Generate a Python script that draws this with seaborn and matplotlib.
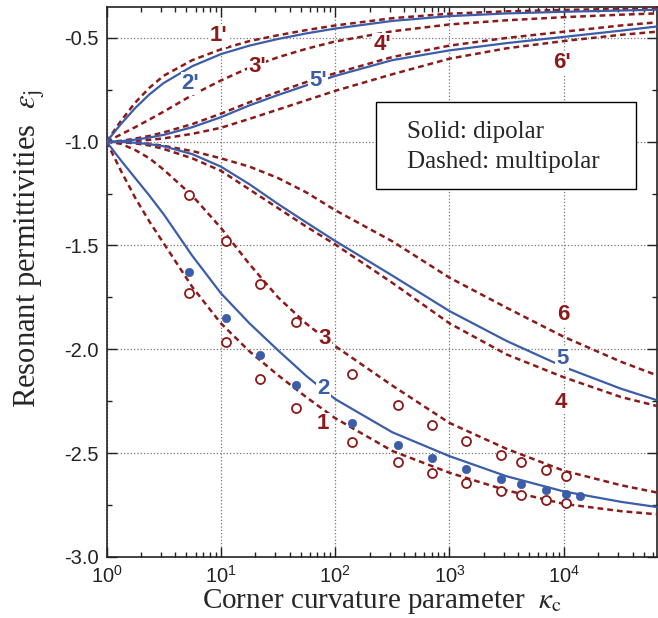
import numpy as np
import pandas as pd
import matplotlib
matplotlib.use("Agg")
import matplotlib.pyplot as plt
from matplotlib.patches import Rectangle
from matplotlib.ticker import LogLocator, MultipleLocator, FormatStrFormatter, NullFormatter
import seaborn as sns

# ── data ───────────────────────────────────────────────────
KAPPA = [1, 1.334, 1.778, 2.371, 3.162, 5.623, 10, 17.78, 31.62, 56.23,
         100, 316.2, 1000, 3162, 10000, 31620, 65000]

# upper branch (primed)
EPS_1P = [-1.0, -0.90, -0.812, -0.74, -0.682, -0.607, -0.555, -0.515, -0.487, -0.462,
          -0.44, -0.405, -0.383, -0.372, -0.365, -0.36, -0.357]
EPS_2P = [-1.0, -0.915, -0.838, -0.772, -0.717, -0.636, -0.578, -0.537, -0.505, -0.478,
          -0.455, -0.418, -0.395, -0.382, -0.374, -0.368, -0.364]
EPS_3P = [-1.0, -0.965, -0.93, -0.893, -0.855, -0.775, -0.705, -0.643, -0.593, -0.552,
          -0.517, -0.468, -0.435, -0.415, -0.40, -0.388, -0.382]
EPS_4P = [-1.0, -0.996, -0.985, -0.972, -0.955, -0.915, -0.865, -0.81, -0.76, -0.712,
          -0.67, -0.592, -0.537, -0.50, -0.47, -0.44, -0.425]
EPS_5P = [-1.0, -0.998, -0.99, -0.98, -0.967, -0.93, -0.882, -0.825, -0.775, -0.728,
          -0.683, -0.607, -0.56, -0.525, -0.495, -0.465, -0.445]
EPS_6P = [-1.0, -0.999, -0.996, -0.991, -0.984, -0.962, -0.933, -0.89, -0.845, -0.80,
          -0.755, -0.675, -0.60, -0.55, -0.515, -0.485, -0.47]

# lower branch
EPS_1 = [-1.0, -1.14, -1.27, -1.385, -1.49, -1.70, -1.875, -2.01, -2.125, -2.232,
         -2.332, -2.49, -2.595, -2.68, -2.745, -2.78, -2.795]
EPS_2 = [-1.0, -1.09, -1.175, -1.26, -1.35, -1.55, -1.73, -1.875, -2.005, -2.13,
         -2.24, -2.40, -2.515, -2.612, -2.685, -2.735, -2.76]
EPS_3 = [-1.0, -1.01, -1.04, -1.08, -1.135, -1.26, -1.415, -1.59, -1.75, -1.878,
         -1.985, -2.175, -2.355, -2.48, -2.585, -2.655, -2.69]
EPS_4 = [-1.0, -1.002, -1.008, -1.018, -1.035, -1.08, -1.14, -1.23, -1.32, -1.41,
         -1.495, -1.68, -1.875, -2.025, -2.135, -2.23, -2.273]
EPS_5 = [-1.0, -1.001, -1.005, -1.012, -1.022, -1.06, -1.12, -1.205, -1.30, -1.39,
         -1.478, -1.645, -1.816, -1.96, -2.085, -2.19, -2.245]
EPS_6 = [-1.0, -1.001, -1.004, -1.01, -1.02, -1.045, -1.08, -1.12, -1.175, -1.245,
         -1.33, -1.48, -1.655, -1.80, -1.94, -2.06, -2.125]

# numerical points
PT_KAPPA = [5.3, 11, 22, 45, 140, 355, 700, 1400, 2800, 4200, 7000, 10500]
RINGS_1 = [-1.728, -1.963, -2.144, -2.284, -2.449, -2.542, -2.596, -2.643, -2.685,
           -2.702, -2.726, -2.742]
RINGS_3 = [-1.258, -1.478, -1.686, -1.87, -2.118, -2.27, -2.365, -2.441, -2.508,
           -2.542, -2.581, -2.609]
DOT_KAPPA = [5.3, 11, 22, 45, 140, 355, 700, 1400, 2800, 4200, 7000, 10500, 14000]
DOTS_2 = [-1.627, -1.85, -2.027, -2.174, -2.355, -2.461, -2.525, -2.577, -2.625,
          -2.650, -2.677, -2.697, -2.707]

# curve labels: text, kappa, eps, kind
LABELS = [
    ("1'", 9.5, -0.49, "multi"), ("2'", 5.4, -0.72, "dip"), ("3'", 20.6, -0.638, "multi"),
    ("5'", 71, -0.705, "dip"), ("4'", 257, -0.53, "multi"), ("6'", 9650, -0.62, "multi"),
    ("6", 10000, -1.833, "multi"), ("5", 9660, -2.045, "dip"), ("4", 9500, -2.256, "multi"),
    ("3", 81, -1.946, "multi"), ("2", 79, -2.19, "dip"), ("1", 78, -2.36, "multi"),
]

RED = "#8B1A1A"
BLUE = "#3C5DAA"

sns.set_style("ticks")
plt.rcParams["font.family"] = ["Liberation Sans", "DejaVu Sans"]
plt.rcParams["mathtext.fontset"] = "stix"
plt.rcParams["axes.unicode_minus"] = False

fig = plt.figure(figsize=(6.58, 6.18), dpi=100)
ax = fig.add_axes([0.162, 0.099, 0.836, 0.89])
ax.set_xscale("log")

dashed = [EPS_1P, EPS_3P, EPS_4P, EPS_6P, EPS_1, EPS_3, EPS_4, EPS_6]
solid = [EPS_2P, EPS_5P, EPS_2, EPS_5]

for vals in dashed:
    sns.lineplot(x=KAPPA, y=vals, ax=ax, color=RED, linewidth=1.8,
                 linestyle=(0, (2.3, 1.6)), zorder=3)
for vals in solid:
    sns.lineplot(x=KAPPA, y=vals, ax=ax, color=BLUE, linewidth=1.6, zorder=3)

pts = pd.DataFrame({"kappa": PT_KAPPA + PT_KAPPA, "eps": RINGS_1 + RINGS_3})
sns.scatterplot(data=pts, x="kappa", y="eps", ax=ax, marker="o", s=42,
                facecolor="white", edgecolor=RED, linewidth=1.3, zorder=4)
sns.scatterplot(x=DOT_KAPPA, y=DOTS_2, ax=ax, marker="o", s=36,
                color=BLUE, edgecolor=BLUE, linewidth=0.5, zorder=4)

for txt, kx, ky, kind in LABELS:
    ax.text(kx, ky, txt, color=RED if kind == "multi" else BLUE, fontsize=16,
            fontweight="bold", ha="center", va="center", zorder=5,
            bbox=dict(facecolor="white", edgecolor="none", pad=0.6))

# key box
ax.add_patch(Rectangle((0.49, 0.669), 0.472, 0.158, transform=ax.transAxes,
                       facecolor="white", edgecolor="black", linewidth=1.0, zorder=6))
ax.text(0.546, 0.762, "Solid: dipolar", transform=ax.transAxes, fontsize=18,
        family="Liberation Serif", va="baseline", zorder=7)
ax.text(0.546, 0.707, "Dashed: multipolar", transform=ax.transAxes, fontsize=18,
        family="Liberation Serif", va="baseline", zorder=7)

ax.set_xlim(1, 65000)
ax.set_ylim(-3.0, -0.35)
ax.xaxis.set_major_locator(LogLocator(base=10, numticks=10))
ax.xaxis.set_minor_locator(LogLocator(base=10, subs=np.arange(2, 10), numticks=20))
ax.xaxis.set_minor_formatter(NullFormatter())
ax.yaxis.set_major_locator(MultipleLocator(0.5))
ax.yaxis.set_minor_locator(MultipleLocator(0.25))
ax.yaxis.set_major_formatter(FormatStrFormatter("%.1f"))

ax.grid(True, which="major", linestyle=":", color="#777777", linewidth=0.9, zorder=0)
ax.tick_params(which="both", direction="in", top=True, right=True, labelsize=14.5,
               colors="#222222", width=1.0)
ax.tick_params(which="major", length=7, pad=6)
ax.tick_params(which="minor", length=3.5)
for sp in ax.spines.values():
    sp.set_linewidth(1.2)
    sp.set_color("#222222")

ax.set_xlabel(r"Corner curvature parameter  $\kappa_{\mathrm{c}}$", fontsize=21,
              family="Liberation Serif")
ax.xaxis.set_label_coords(0.5, -0.054)
ax.set_ylabel(r"Resonant permittivities  $\varepsilon_{\mathrm{j}}$", fontsize=22,
              family="Liberation Serif")
ax.yaxis.set_label_coords(-0.108, 0.56)

fig.savefig("out.png", dpi=100)
